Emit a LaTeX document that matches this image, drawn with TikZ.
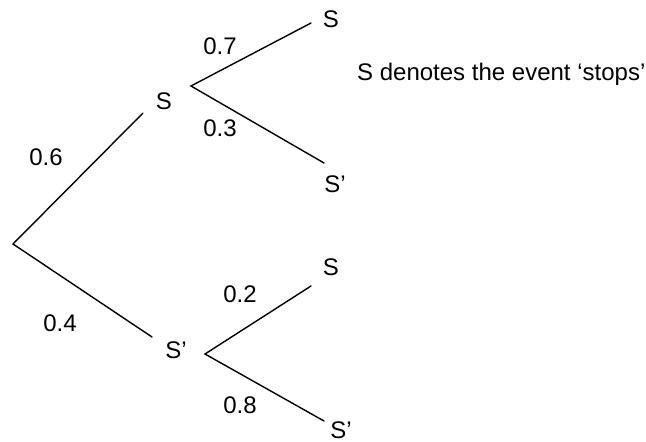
\documentclass[tikz,border=0pt]{standalone}
\usepackage{fontspec}
\setmainfont{Liberation Sans}
\begin{document}
\begin{tikzpicture}[x=1pt,y=-1pt,
  branch/.style={line width=1.4pt,line cap=round},
  lbl/.style={font=\fontsize{24}{28}\selectfont,inner sep=0pt}]
\useasboundingbox (0,0) rectangle (646,442);
% branch points and branch ends
\coordinate (root) at (13,244);
\coordinate (aS) at (143,113);
\coordinate (aN) at (152,337);
\coordinate (vS) at (191,86);
\coordinate (vSS) at (311,23);
\coordinate (vSN) at (324,163);
\coordinate (vN) at (205,354);
\coordinate (vNS) at (311,286);
\coordinate (vNN) at (324,421);
% branches
\draw[branch] (aS) -- (root) -- (aN);
\draw[branch] (vSS) -- (vS) -- (vSN);
\draw[branch] (vNS) -- (vN) -- (vNN);
% outcomes
\node[lbl] (nS) at (164,101) {S};
\node[lbl] (nN) at (176,350) {S’};
\node[lbl] (nSS) at (331,19) {S};
\node[lbl] (nSN) at (335,184) {S’};
\node[lbl] (nNS) at (331,267) {S};
\node[lbl] (nNN) at (341,430) {S’};
% probabilities
\node[lbl] (p06) at (46,157) {0.6};
\node[lbl] (p04) at (60,323) {0.4};
\node[lbl] (p07) at (220,46) {0.7};
\node[lbl] (p03) at (220,128) {0.3};
\node[lbl] (p02) at (240,294) {0.2};
\node[lbl] (p08) at (240,405) {0.8};
% key
\node[lbl,anchor=west] (key) at (357,74) {S denotes the event ‘stops’};
\end{tikzpicture}
\end{document}
